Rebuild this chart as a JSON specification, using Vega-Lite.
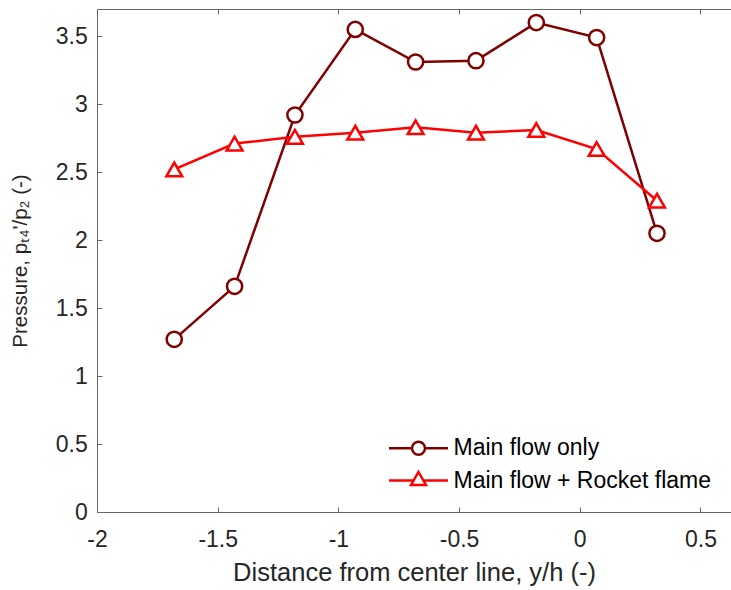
{
  "$schema": "https://vega.github.io/schema/vega-lite/v6.json",
  "width": 634,
  "height": 503,
  "autosize": {"type": "none"},
  "padding": {"left": 97, "top": 9, "right": 0, "bottom": 78},
  "background": "white",
  "config": {
    "view": {"stroke": null},
    "font": "Liberation Sans",
    "axis": {
      "grid": false,
      "domainColor": "#666666",
      "domainWidth": 1,
      "tickColor": "#666666",
      "tickSize": -5,
      "tickWidth": 1,
      "labelFont": "Liberation Sans",
      "labelFontSize": 23,
      "labelColor": "#262626",
      "titleFont": "Liberation Sans",
      "titleColor": "#262626",
      "titleFontWeight": "normal",
      "labelExpr": "'' + datum.value"
    },
    "axisX": {
      "labelPadding": 39,
      "labelBaseline": "alphabetic",
      "labelFlush": false,
      "titleFontSize": 25.5,
      "titleY": 68,
      "titleBaseline": "alphabetic"
    },
    "axisY": {
      "labelPadding": 14.7,
      "labelFlush": false,
      "titleFontSize": 20.5,
      "titleX": -71,
      "titleBaseline": "alphabetic"
    }
  },
  "data": {
    "values": [
      {"series": "Main flow only", "x": -1.68, "y": 1.27},
      {"series": "Main flow only", "x": -1.43, "y": 1.66},
      {"series": "Main flow only", "x": -1.18, "y": 2.92},
      {"series": "Main flow only", "x": -0.93, "y": 3.55},
      {"series": "Main flow only", "x": -0.68, "y": 3.31},
      {"series": "Main flow only", "x": -0.43, "y": 3.32},
      {"series": "Main flow only", "x": -0.18, "y": 3.6},
      {"series": "Main flow only", "x": 0.07, "y": 3.49},
      {"series": "Main flow only", "x": 0.32, "y": 2.05},
      {"series": "Main flow + Rocket flame", "x": -1.68, "y": 2.52},
      {"series": "Main flow + Rocket flame", "x": -1.43, "y": 2.71},
      {"series": "Main flow + Rocket flame", "x": -1.18, "y": 2.76},
      {"series": "Main flow + Rocket flame", "x": -0.93, "y": 2.79},
      {"series": "Main flow + Rocket flame", "x": -0.68, "y": 2.83},
      {"series": "Main flow + Rocket flame", "x": -0.43, "y": 2.79},
      {"series": "Main flow + Rocket flame", "x": -0.18, "y": 2.81},
      {"series": "Main flow + Rocket flame", "x": 0.07, "y": 2.67},
      {"series": "Main flow + Rocket flame", "x": 0.32, "y": 2.29}
    ]
  },
  "resolve": {"axis": {"x": "independent"}},
  "layer": [
    {
      "mark": {"type": "line", "strokeWidth": 2.5},
      "encoding": {
        "x": {
          "field": "x", "type": "quantitative",
          "scale": {"domain": [-2, 0.6266], "nice": false, "zero": false},
          "axis": {"orient": "bottom", "title": "Distance from center line, y/h (-)", "values": [-2, -1.5, -1, -0.5, 0, 0.5]}
        },
        "y": {
          "field": "y", "type": "quantitative",
          "scale": {"domain": [0, 3.7], "nice": false, "zero": false},
          "axis": {"title": "Pressure, pₜ₄'/p₂ (-)", "values": [0, 0.5, 1, 1.5, 2, 2.5, 3, 3.5]}
        },
        "color": {
          "field": "series", "type": "nominal",
          "scale": {"domain": ["Main flow only", "Main flow + Rocket flame"], "range": ["#800000", "#ff0000"]},
          "legend": {
            "orient": "none",
            "legendX": 310,
            "legendY": 427.7,
            "title": null,
            "padding": 0,
            "symbolSize": 400,
            "symbolStrokeWidth": 2.5,
            "labelFont": "Liberation Sans",
            "labelFontSize": 23,
            "labelColor": "#000000",
            "labelOffset": 23.5,
            "labelLimit": 400,
            "rowPadding": 6.3,
            "encode": {
              "symbols": {
                "update": {
                  "shape": {"signal": "datum.value === 'Main flow only' ? 'M-2.95,0L-0.65,0M0.65,0L2.95,0M0.65,0A0.65,0.65,0,1,1,-0.65,0A0.65,0.65,0,1,1,0.65,0Z' : 'M-2.95,0L-0.49,0M0.49,0L2.95,0M0,-0.85L0.75,0.45L-0.75,0.45Z'"},
                  "fill": {"value": "white"},
                  "fillOpacity": {"value": 1}
                }
              }
            }
          }
        }
      }
    },
    {
      "transform": [{"filter": "datum.series === 'Main flow only'"}],
      "mark": {"type": "point", "shape": "circle", "filled": true, "fill": "white", "fillOpacity": 1, "opacity": 1, "stroke": "#800000", "strokeWidth": 2.5, "size": 230},
      "encoding": {
        "x": {"field": "x", "type": "quantitative", "axis": null},
        "y": {"field": "y", "type": "quantitative"}
      }
    },
    {
      "transform": [{"filter": "datum.series === 'Main flow + Rocket flame'"}],
      "mark": {"type": "point", "shape": "triangle-up", "filled": true, "fill": "white", "fillOpacity": 1, "opacity": 1, "stroke": "#ff0000", "strokeWidth": 2.5, "size": 250},
      "encoding": {
        "x": {"field": "x", "type": "quantitative", "axis": null},
        "y": {"field": "y", "type": "quantitative"}
      }
    },
    {
      "mark": {"type": "point", "opacity": 0},
      "encoding": {
        "x": {
          "field": "x", "type": "quantitative",
          "axis": {"orient": "top", "labels": false, "title": null, "values": [-2, -1.5, -1, -0.5, 0, 0.5]}
        },
        "y": {"field": "y", "type": "quantitative"}
      }
    }
  ]
}
